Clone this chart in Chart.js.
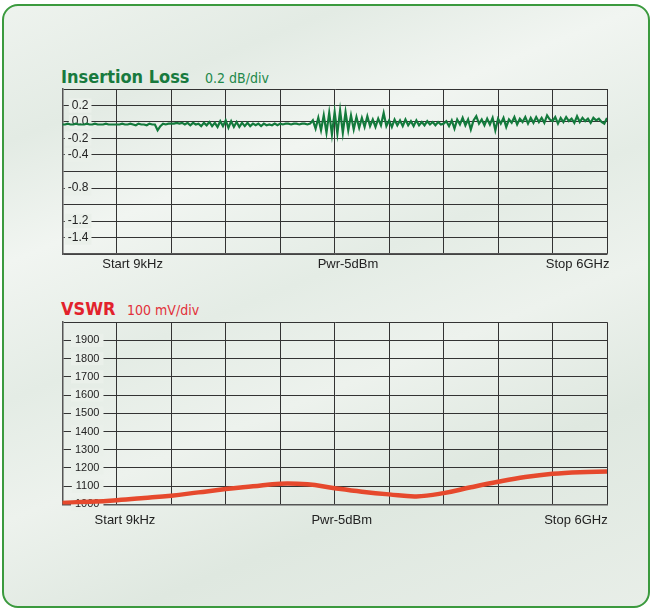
<!DOCTYPE html>
<html>
<head>
<meta charset="utf-8">
<title>Insertion Loss / VSWR</title>
<script src="https://cdn.jsdelivr.net/npm/chart.js@4.4.0/dist/chart.umd.min.js"></script>
<style>
  html, body { margin: 0; padding: 0; background: #fff; }
  body { width: 653px; height: 610px; position: relative; overflow: hidden; }
  .panel {
    position: absolute; left: 2px; top: 4px; width: 648px; height: 604px;
    box-sizing: border-box; border: 2.5px solid #3b9a3e; border-radius: 16px;
    background: linear-gradient(158deg, #eef3ee 0%, #e3ebe4 16%, #f1f5f1 30%, #e4ece5 46%, #edf2ed 60%, #dfe8e0 76%, #e8eee8 100%);
  }
  canvas { position: absolute; left: 0; }
  .title, .unit {
    position: absolute; white-space: nowrap; line-height: normal;
    font-family: 'DejaVu Sans Condensed', 'DejaVu Sans', sans-serif;
  }
  .title { font-weight: bold; font-size: 18px; }
  .unit { font-size: 14px; }
</style>
</head>
<body>
<div class="panel"></div>

<div class="title" style="left:61px; top:66px; color:#187a3e;">Insertion Loss</div>
<div class="unit" style="left:205px; top:70px; color:#22884a;">0.2 dB/div</div>
<canvas id="loss-chart" width="653" height="205" style="top:75px;"></canvas>

<div class="title" style="left:61px; top:298px; color:#e2222c;">VSWR</div>
<div class="unit" style="left:127px; top:302px; color:#e2303a;">100 mV/div</div>
<canvas id="vswr-chart" width="653" height="242" style="top:299.5px;"></canvas>

<script>
const sweepLabels = ['Start 9kHz', 'Pwr-5dBm', 'Stop 6GHz'];
const lossTickLabels = ['0.2', '0.0', '-0.2', '-0.4', '-0.8', '-1.2', '-1.4'];
const vswrTickLabels = ['1900', '1800', '1700', '1600', '1500', '1400', '1300', '1200', '1100', '1000'];

// insertion loss trace, dB, evenly spaced over the sweep
const lossDb = [
  -0.03, -0.03, -0.02, -0.03, -0.03, -0.02, -0.03, -0.03, -0.03, -0.02, -0.03, -0.03, -0.02, -0.03, -0.03, -0.03, -0.02, -0.03, -0.03, -0.03,
  -0.03, -0.03, -0.02, -0.03, -0.03, -0.02, -0.03, -0.04, -0.02, -0.03, -0.03, -0.04, -0.02, -0.03, -0.03, -0.10, -0.05, -0.02, -0.03, -0.02,
  -0.02, -0.02, -0.01, -0.02, -0.01, -0.03, -0.01, -0.04, -0.01, -0.03, -0.02, -0.05, -0.01, -0.04, 0.00, -0.05, -0.01, -0.06, 0.01, -0.05,
  0.02, -0.07, 0.01, -0.06, 0.00, -0.06, -0.01, -0.05, -0.01, -0.05, -0.02, -0.04, -0.02, -0.05, -0.02, -0.04, -0.03, -0.04, -0.02, -0.04,
  -0.02, -0.03, -0.02, -0.02, -0.03, -0.02, -0.02, -0.03, -0.02, -0.02, -0.03, -0.02, 0.02, -0.08, 0.05, -0.10, 0.08, -0.13, 0.11, -0.15,
  0.12, -0.14, 0.14, -0.13, 0.12, -0.10, 0.08, -0.09, 0.06, -0.07, 0.05, -0.06, 0.07, -0.05, 0.03, -0.06, 0.04, -0.04, 0.11, -0.05,
  0.02, -0.06, 0.03, -0.04, 0.02, -0.05, 0.03, -0.04, 0.01, -0.05, 0.02, -0.04, 0.00, -0.04, 0.01, -0.03, 0.00, -0.04, 0.00, -0.03,
  -0.02, 0.01, -0.05, 0.02, -0.08, 0.03, -0.03, 0.05, -0.04, 0.03, -0.09, 0.02, 0.07, -0.02, 0.03, -0.04, 0.04, -0.03, 0.05, -0.10,
  0.04, -0.02, 0.05, -0.06, 0.03, -0.01, 0.06, -0.03, 0.04, 0.00, 0.06, -0.02, 0.05, -0.01, 0.06, 0.00, 0.05, -0.01, 0.08, 0.03,
  0.01, 0.06, -0.02, 0.05, 0.00, 0.06, 0.01, 0.04, -0.01, 0.07, 0.00, 0.05, 0.01, 0.04, -0.01, 0.05, 0.02, 0.04, 0.00, -0.02, 0.05
];

// VSWR trace, mV
const vswrMv = [1008, 1014, 1023, 1035, 1048, 1066, 1084, 1099, 1114, 1110, 1089, 1070, 1055, 1044, 1062, 1094, 1124, 1150, 1168, 1177, 1180];

const gridColor = '#333';
const panelColor = '#eaf0ea';

// spread a trace over the 10 horizontal divisions
function toPoints(values) {
    const last = values.length - 1;
    return values.map((v, i) => ({ x: i * 10 / last, y: v }));
}

function traceChart(canvas, opts) {
    return new Chart(canvas.getContext('2d'), {
        type: 'line',
        data: {
            datasets: [{
                data: toPoints(opts.values),
                borderColor: opts.color,
                borderWidth: opts.width,
                tension: opts.tension,
                pointRadius: 0,
                fill: false
            }]
        },
        options: {
            responsive: false,
            animation: false,
            layout: { padding: opts.padding },
            plugins: { legend: { display: false }, tooltip: { enabled: false } },
            scales: {
                x: {
                    type: 'linear', min: 0, max: 10,
                    ticks: { stepSize: 1, display: false },
                    grid: { color: gridColor, lineWidth: 1, drawTicks: false },
                    border: { color: '#555', width: 1.5 }
                },
                sweep: {
                    type: 'linear', position: 'bottom', min: 0, max: 10,
                    afterBuildTicks: axis => { axis.ticks = opts.labelAt.map(v => ({ value: v })); },
                    ticks: {
                        autoSkip: false, maxRotation: 0, minRotation: 0,
                        padding: opts.labelPad,
                        color: '#222',
                        font: { family: "'Liberation Sans', Arial, sans-serif", size: 13 },
                        callback: (v, i) => sweepLabels[i]
                    },
                    grid: { display: false, drawTicks: false },
                    border: { display: false }
                },
                y: {
                    type: 'linear', min: opts.yMin, max: opts.yMax,
                    ticks: {
                        stepSize: opts.step,
                        autoSkip: false,
                        mirror: true,
                        crossAlign: 'far',
                        padding: opts.tickPad,
                        color: '#222',
                        font: opts.tickFont,
                        showLabelBackdrop: true,
                        backdropPadding: { x: opts.gap, y: 0 },
                        backdropColor: ctx => opts.tickLabels.includes(opts.fmt(ctx.tick.value)) ? panelColor : 'rgba(0,0,0,0)',
                        callback: v => opts.tickLabels.includes(opts.fmt(v)) ? opts.fmt(v) : ''
                    },
                    grid: { color: gridColor, lineWidth: 1, drawTicks: false },
                    border: { color: '#555', width: 1.5 }
                }
            }
        }
    });
}

traceChart(document.querySelector('#loss-chart'), {
    values: lossDb,
    color: '#137a3c',
    width: 2.2,
    tension: 0,
    yMin: -1.6, yMax: 0.4, step: 0.2,
    fmt: v => v.toFixed(1),
    tickLabels: lossTickLabels,
    tickFont: { family: "'Liberation Sans', Arial, sans-serif", size: 12 },
    tickPad: 5.5,
    gap: 3,
    labelAt: [1.29, 5.245, 9.46],
    labelPad: 2.2,
    padding: { left: 51.3, right: 46, top: 14, bottom: 6 }
});

traceChart(document.querySelector('#vswr-chart'), {
    values: vswrMv,
    color: '#e6492d',
    width: 4.5,
    tension: 0.4,
    yMin: 1000, yMax: 2000, step: 100,
    fmt: v => String(Math.round(v)),
    tickLabels: vswrTickLabels,
    tickFont: { family: "'Liberation Sans', Arial, sans-serif", size: 11 },
    tickPad: 12.7,
    gap: 4,
    labelAt: [1.15, 5.13, 9.43],
    labelPad: 8.5,
    padding: { left: 36.9, right: 46, top: 22.2, bottom: 5 }
});
</script>
</body>
</html>
